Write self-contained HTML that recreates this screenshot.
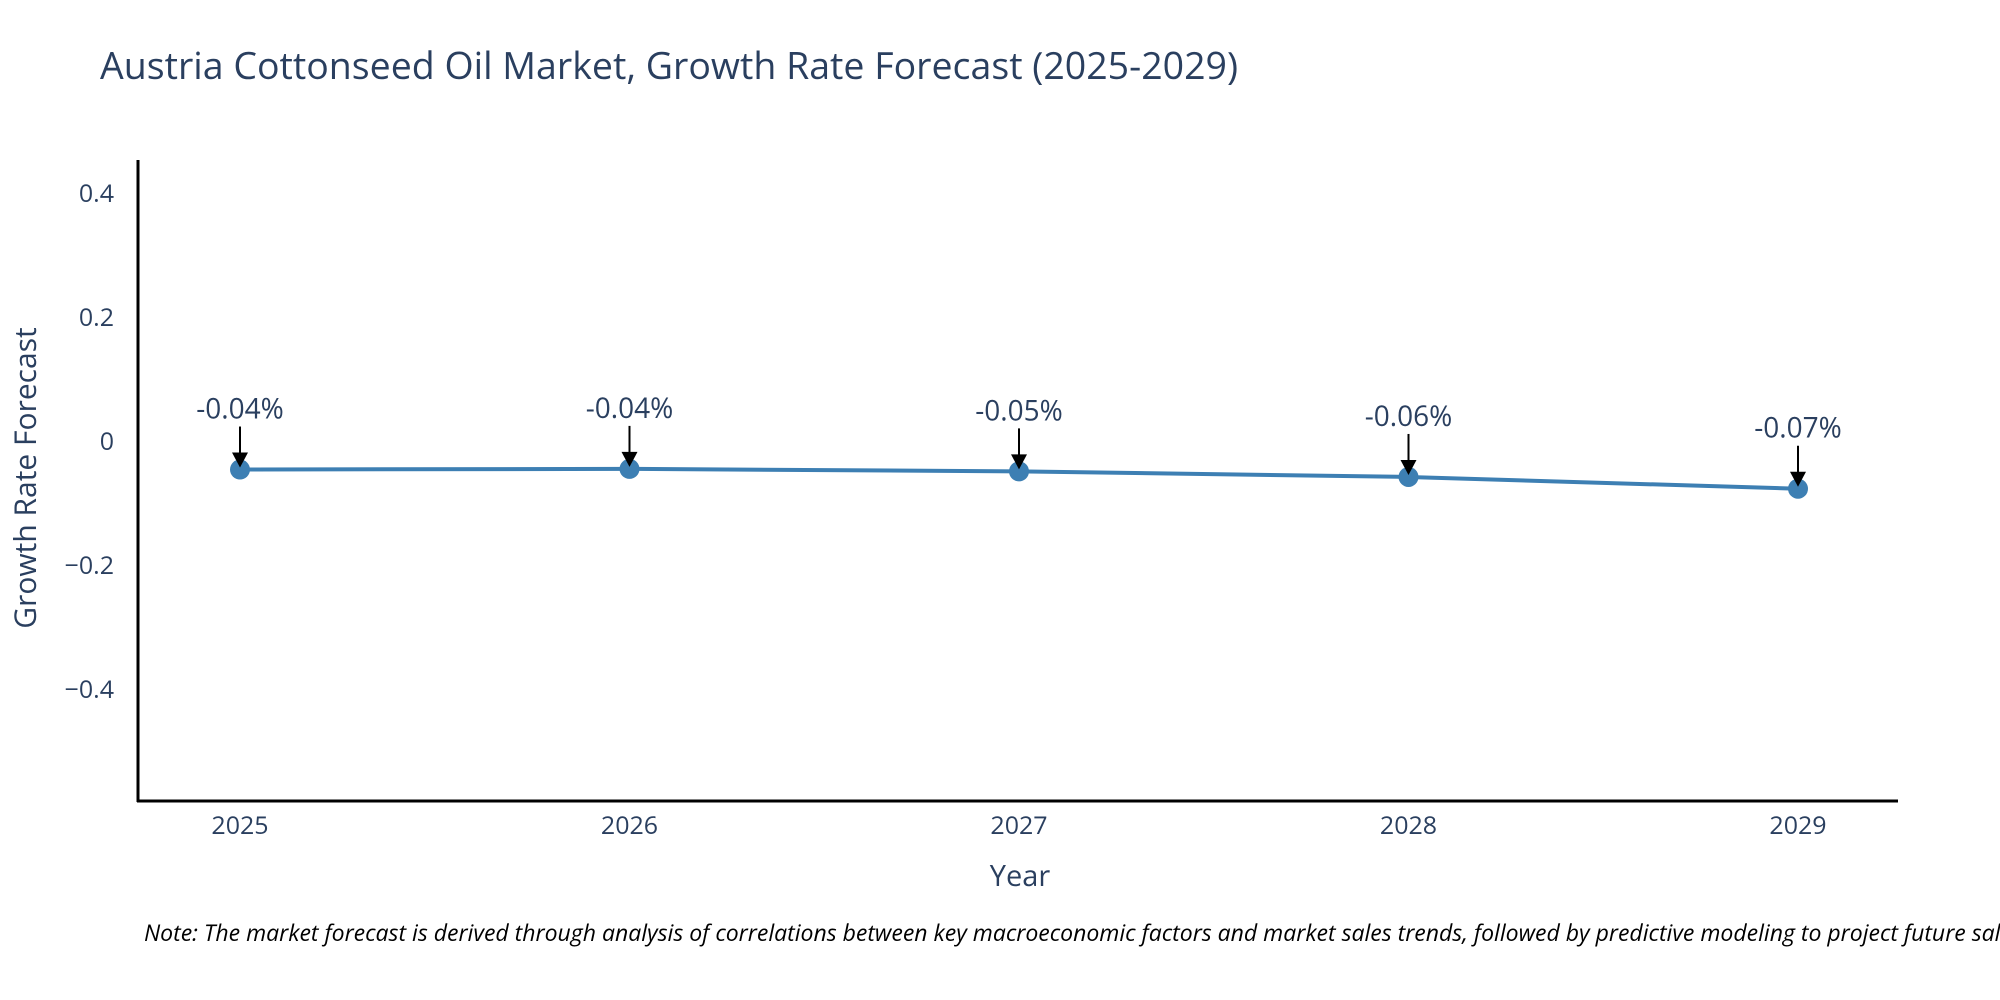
<!DOCTYPE html>
<html><head><meta charset="utf-8"><style>
body{margin:0;background:#fff;}
svg{display:block;font-family:"Open Sans","Liberation Sans",sans-serif;}
</style></head><body>
<svg id="chart" width="2000" height="1000" viewBox="0 0 2000 1000">
<text x="100" y="79" font-size="37.5" fill="#2a3f5f">Austria Cottonseed Oil Market, Growth Rate Forecast (2025-2029)</text>
<g id="yticks"></g>
<g id="xticks"></g>
<line x1="138" y1="160" x2="138" y2="802" stroke="#000" stroke-width="3"/>
<line x1="137" y1="801" x2="1898" y2="801" stroke="#000" stroke-width="3"/>
<g id="series"></g>
<text x="1020" y="886" font-size="29" fill="#2a3f5f" text-anchor="middle">Year</text>
<text transform="translate(36,478) rotate(-90)" font-size="30" fill="#2a3f5f" text-anchor="middle">Growth Rate Forecast</text>
<text x="144" y="941" font-size="23" font-style="italic" fill="#000">Note: The market forecast is derived through analysis of correlations between key macroeconomic factors and market sales trends, followed by predictive modeling to project future sales.</text>
</svg>
<script>
const years = [2025, 2026, 2027, 2028, 2029];
const growth = [-0.046, -0.045, -0.049, -0.058, -0.077];
const labels = ["-0.04%", "-0.04%", "-0.05%", "-0.06%", "-0.07%"];
const yTicks = [0.4, 0.2, 0, -0.2, -0.4];
const yTickLabels = ["0.4", "0.2", "0", "\u22120.2", "\u22120.4"];
const NS = "http://www.w3.org/2000/svg";
function xs(i){ return 240 + (1798 - 240) * (i - years[0]) / (years[years.length-1] - years[0]); }
function ys(v){ return 441 - v * 620; }
function mk(tag, attrs, parent){ const e = document.createElementNS(NS, tag); for (const k in attrs) e.setAttribute(k, attrs[k]); parent.appendChild(e); return e; }
const yt = document.getElementById('yticks');
yTicks.forEach((v, i) => {
  const t = mk('text', {x: 114, y: ys(v) + 9, 'font-size': 25, fill: '#2a3f5f', 'text-anchor': 'end'}, yt);
  
  
  t.textContent = yTickLabels[i];
});
const xt = document.getElementById('xticks');
years.forEach(y => {
  const t = mk('text', {x: xs(y), y: 834, 'font-size': 25, fill: '#2a3f5f', 'text-anchor': 'middle'}, xt);
  
  
  t.textContent = String(y);
});
const s = document.getElementById('series');
const pts = years.map((y, i) => xs(y) + ',' + ys(growth[i])).join(' ');
const line = mk('polyline', {points: pts, fill: 'none', stroke: '#3d7fb3', 'stroke-width': 4}, s);


years.forEach((y, i) => {
  const cx = xs(y), cy = ys(growth[i]);
  const c = mk('circle', {cx: cx, cy: cy, r: 10, fill: '#3d7fb3'}, s);
  
  
  const l = mk('line', {x1: cx, y1: cy - 43, x2: cx, y2: cy - 14, stroke: '#000', 'stroke-width': 2}, s);
  
  
  const a = mk('polygon', {points: (cx-8)+','+(cy-17)+' '+(cx+8)+','+(cy-17)+' '+cx+','+(cy-2), fill: '#000'}, s);
  
  
  const t = mk('text', {x: cx, y: cy - 51, 'font-size': 28, fill: '#2a3f5f', 'text-anchor': 'middle'}, s);
  
  
  t.textContent = labels[i];
});
</script>
</body></html>
